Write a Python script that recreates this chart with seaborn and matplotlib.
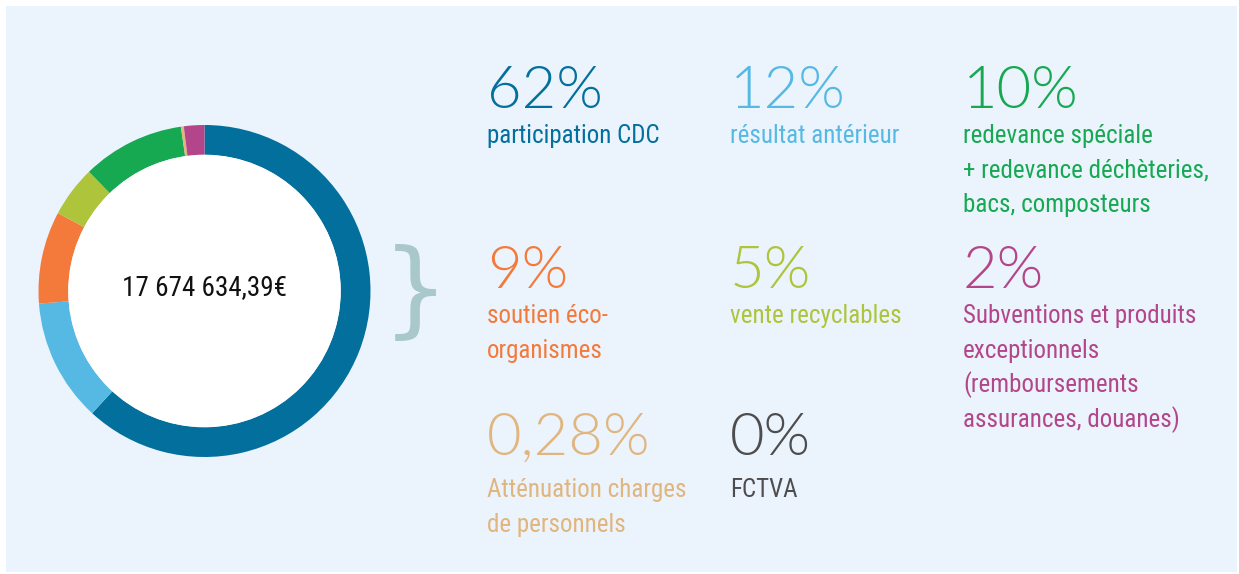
import matplotlib
matplotlib.use("Agg")
import os
import matplotlib.pyplot as plt
from matplotlib import font_manager
from matplotlib.font_manager import FontProperties
from matplotlib.patches import Rectangle, Circle
import seaborn as sns

# Budget breakdown (recettes)
categories = [
    "participation CDC",
    "résultat antérieur",
    "soutien éco-organismes",
    "vente recyclables",
    "redevance spéciale + redevance déchèteries, bacs, composteurs",
    "Atténuation charges de personnels",
    "FCTVA",
    "Subventions et produits exceptionnels",
]
shares = [62, 12, 9, 5, 10, 0.28, 0, 2]
pct_labels = ["62%", "12%", "9%", "5%", "10%", "0,28%", "0%", "2%"]
desc_lines = [
    ["participation CDC"],
    ["résultat antérieur"],
    ["soutien éco-", "organismes"],
    ["vente recyclables"],
    ["redevance spéciale", "+ redevance déchèteries,", "bacs, composteurs"],
    ["Atténuation charges", "de personnels"],
    ["FCTVA"],
    ["Subventions et produits", "exceptionnels", "(remboursements", "assurances, douanes)"],
]
total_label = "17 674 634,39€"

colors = sns.color_palette([
    "#036F9D", "#56B9E4", "#F47A3C", "#AEC43B",
    "#17A852", "#E1B57E", "#4D4D4F", "#B3468A",
])

sns.set_theme(style="white")
plt.rcParams["font.family"] = ["DejaVu Sans"]


def find_font(preferences):
    """Return a FontProperties for the first font file whose name matches."""
    files = {os.path.basename(f.fname).lower(): f.fname for f in font_manager.fontManager.ttflist}
    for key in preferences:
        for base, path in sorted(files.items()):
            if base.startswith(key):
                return FontProperties(fname=path), True
    return FontProperties(family="DejaVu Sans"), False


label_fp, label_ok = find_font([
    "liberationsansnarrow-regular", "robotocondensed-regular", "roboto_condensed-regular",
    "notosans-extracondensed.", "notosans-condensed.", "opensans-condensedlight",
    "dejavusanscondensed.",
])
total_fp, total_ok = find_font([
    "notosans-extracondensedmedium", "notosans-extracondensed.", "robotocondensed-regular",
    "liberationsansnarrow-regular", "notosans-condensed.", "dejavusanscondensed.",
])
digits_fp = FontProperties(family="Lato", weight=300)

W, H = 1239, 574
fig = plt.figure(figsize=(W / 100, H / 100), dpi=100)
fig.patch.set_facecolor("white")

# full-figure canvas in pixel units (y downwards)
canvas = fig.add_axes([0, 0, 1, 1])
canvas.set_xlim(0, W)
canvas.set_ylim(H, 0)
canvas.axis("off")
canvas.add_patch(Rectangle((6, 6), 1231, 566, facecolor="#EBF4FC", edgecolor="none", zorder=0))

# donut
cx, cy, R = 204.5, 291, 166
ring = fig.add_axes([(cx - R) / W, 1 - (cy + R) / H, 2 * R / W, 2 * R / H])
ring.pie(shares, colors=colors, startangle=90, counterclock=False, radius=1,
         wedgeprops=dict(width=0.18, linewidth=0))
ring.add_patch(Circle((0, 0), 0.821, facecolor="white", edgecolor="none", zorder=5))
ring.set_xlim(-1, 1)
ring.set_ylim(-1, 1)
ring.set_aspect("equal")
ring.axis("off")
ring.text(0, 0.02, total_label, ha="center", va="center", fontproperties=total_fp,
          fontsize=19.5 if total_ok else 16, color="#111111", zorder=6)

# brace linking the donut to the legend
canvas.text(415, 295, "}", ha="center", va="center", fontsize=76,
            family="DejaVu Sans", color="#A9C8CC", zorder=2)

# legend grid: (column x, percentage baseline, first label baseline)
positions = {
    0: (487, 108, 143),
    1: (730, 108, 143),
    4: (963, 108, 143),
    2: (487, 288, 323),
    3: (730, 288, 323),
    7: (963, 288, 323),
    5: (487, 455, 497),
    6: (730, 455, 497),
}
line_step = 34.7
label_size = 18 if label_ok else 15
for i, (x, yp, yl) in positions.items():
    canvas.text(x, yp, pct_labels[i], ha="left", va="baseline", fontsize=43,
                fontproperties=digits_fp, color=colors[i], zorder=3)
    for k, line in enumerate(desc_lines[i]):
        canvas.text(x, yl + k * line_step, line, ha="left", va="baseline",
                    fontproperties=label_fp, fontsize=label_size, color=colors[i], zorder=3)

fig.savefig("out.png", dpi=100, facecolor=fig.get_facecolor())
